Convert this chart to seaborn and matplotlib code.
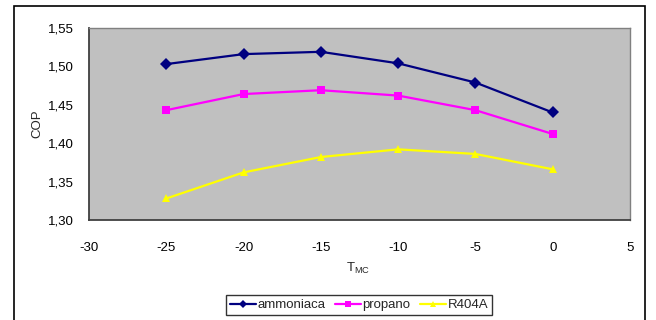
import matplotlib
matplotlib.use("Agg")
import matplotlib.pyplot as plt
import seaborn as sns
import pandas as pd
from matplotlib.patches import Rectangle

t_mc = [-25, -20, -15, -10, -5, 0]
ammoniaca = [1.503, 1.516, 1.519, 1.504, 1.479, 1.440]
propano = [1.443, 1.464, 1.469, 1.462, 1.443, 1.412]
r404a = [1.328, 1.362, 1.382, 1.392, 1.386, 1.366]
series_names = ["ammoniaca", "propano", "R404A"]

df = pd.DataFrame({
    "T": t_mc * 3,
    "COP": ammoniaca + propano + r404a,
    "serie": sum([[n] * len(t_mc) for n in series_names], []),
})

sns.set_style("white")
plt.rcParams["font.family"] = ["Liberation Sans", "DejaVu Sans"]
plt.rcParams["axes.unicode_minus"] = False

W, H = 656, 320
fig = plt.figure(figsize=(W / 100, H / 100), dpi=100)
ax = fig.add_axes([89 / W, 1 - 220 / H, (630 - 89) / W, (220 - 28) / H])

palette = {"ammoniaca": "#000080", "propano": "#FF00FF", "R404A": "#FFFF00"}
markers = {"ammoniaca": "D", "propano": "s", "R404A": "^"}
sns.lineplot(data=df, x="T", y="COP", hue="serie", style="serie",
             palette=palette, markers=markers, dashes=False,
             markersize=6, linewidth=1.6, markeredgewidth=0, ax=ax)

ax.set_facecolor("#C0C0C0")
ax.set_xlim(-30, 5)
ax.set_ylim(1.30, 1.55)
ax.set_xticks([-30, -25, -20, -15, -10, -5, 0, 5])
ax.set_yticks([1.30, 1.35, 1.40, 1.45, 1.50, 1.55])
ax.set_yticklabels([f"{v:.2f}".replace(".", ",") for v in [1.30, 1.35, 1.40, 1.45, 1.50, 1.55]])
ax.tick_params(axis="both", labelsize=9.5, direction="out", length=4, width=1,
               colors="black", pad=7)
ax.tick_params(axis="x", pad=12)
for s in ["top", "right"]:
    ax.spines[s].set_color("#808080")
    ax.spines[s].set_linewidth(1)
for s in ["left", "bottom"]:
    ax.spines[s].set_color("#404040")
    ax.spines[s].set_linewidth(1.3)
ax.set_xlabel("")
ax.set_ylabel("COP", fontsize=9.5)
ax.yaxis.set_label_coords(-0.085, 0.5)
fig.text(358 / W, 1 - 268 / H, r"T$_{\mathregular{MC}}$", fontsize=9.5, ha="center", va="center")

handles, labels = ax.get_legend_handles_labels()
for h in handles:
    h.set_markersize(4.5)
leg = ax.legend(handles, labels, loc="center", bbox_to_anchor=(359 / W, 1 - 305 / H),
                bbox_transform=fig.transFigure, ncol=3, fontsize=9.5, frameon=True,
                fancybox=False, edgecolor="black", handlelength=2.0, handletextpad=0.1,
                columnspacing=0.7, borderpad=0.3, borderaxespad=0)
leg.get_frame().set_linewidth(1)

fig.patches.append(Rectangle((14 / W, -0.1), (645 - 14) / W, 1.1 - 6 / H,
                             transform=fig.transFigure, fill=False, edgecolor="black",
                             linewidth=1.2))
fig.savefig("out.png", dpi=100)
